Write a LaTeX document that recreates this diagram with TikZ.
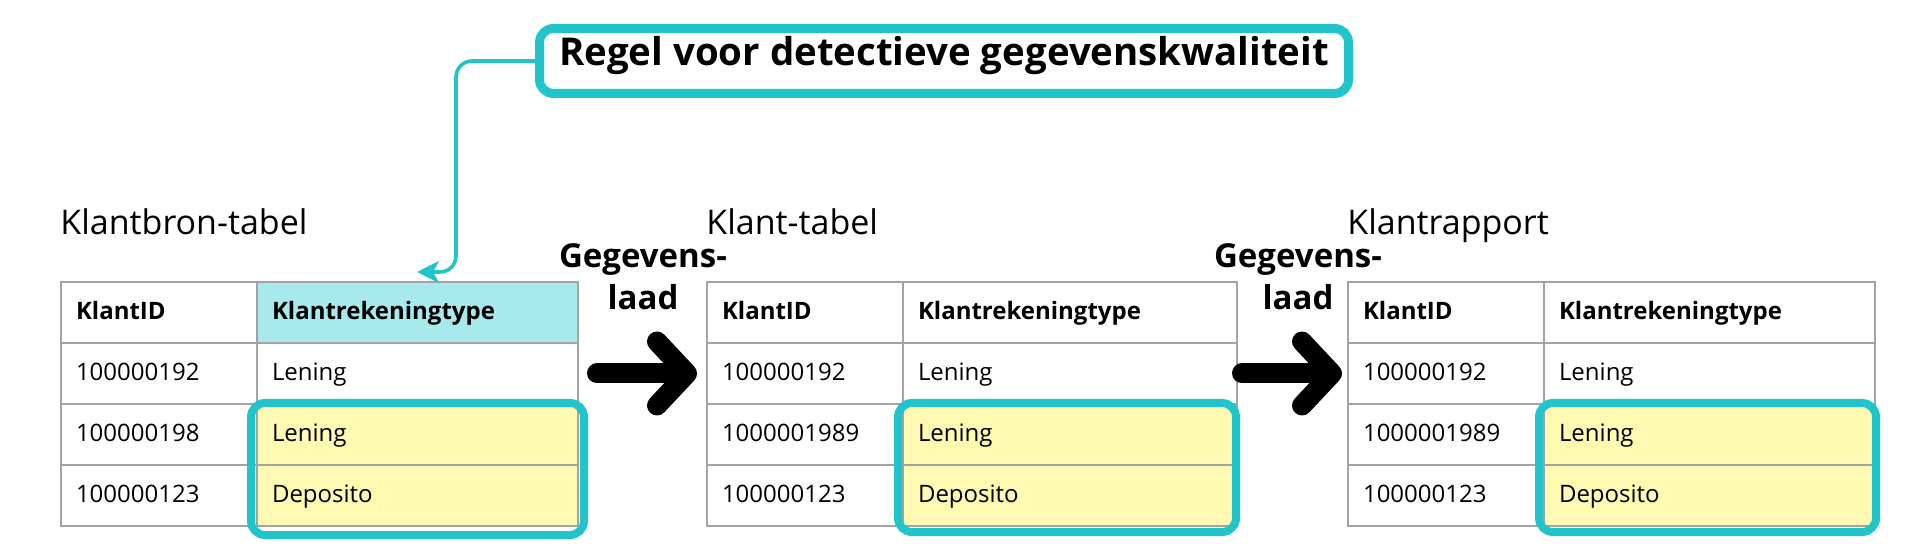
\documentclass[tikz,border=0pt]{standalone}
\usepackage{fontspec}
\setmainfont{Open Sans}
\usetikzlibrary{arrows.meta}

\definecolor{rulecyan}{HTML}{22C4CB}
\definecolor{headcyan}{HTML}{A7E9EC}
\definecolor{hlyellow}{HTML}{FFF9B1}
\definecolor{gridgray}{HTML}{A3A3A3}

\tikzset{
  cell/.style={draw=gridgray, line width=1pt, anchor=north west,
    minimum height=30.5pt, text height=7pt, text depth=0pt,
    inner xsep=7.5pt, align=left, font=\fontsize{12}{14}\selectfont},
  idcell/.style={cell, text width=83pt},
  typecell/.style={cell, text width=#1},
  head/.style={font=\fontsize{12}{14}\selectfont\bfseries},
  tabtitle/.style={anchor=base west, inner sep=0pt,
    font=\fontsize{17}{20}\selectfont},
  loadlabel/.style={align=center, inner sep=0pt,
    font=\bfseries\fontsize{16.5}{21}\selectfont},
  loadarrow/.style={line width=10pt, line cap=round,
    -{Straight Barb[round, length=15pt, width=32pt]}},
  rulebox/.style={draw=rulecyan, line width=4.5pt, rounded corners=7pt,
    minimum width=404.5pt, inner ysep=0pt, text height=18.75pt,
    text depth=13.75pt, font=\bfseries\fontsize{19.2}{22}\selectfont},
  rulearrow/.style={draw=rulecyan, line width=1.8pt, rounded corners=8pt,
    -{Stealth[length=11pt, width=11pt, inset=3pt]}},
  hlbox/.style={draw=rulecyan, line width=4pt, rounded corners=7pt}
}

\begin{document}
\begin{tikzpicture}
    [x=0.5pt, y=-0.5pt]

    \useasboundingbox (0, 0) rectangle (1920, 560);

    \node [rulebox] at (944, 61) (rule) {Regel voor detectieve gegevenskwaliteit};

    % Klantbron-tabel
    \node [tabtitle] at (60, 235) (t1) {Klantbron-tabel};
    \node [idcell, head] at (60, 281) (s0a) {KlantID};
    \node [typecell=145.5pt, head, fill=headcyan] at (256, 281) (s0b) {Klantrekeningtype};
    \node [idcell] at (60, 342) (s1a) {100000192};
    \node [typecell=145.5pt] at (256, 342) (s1b) {Lening};
    \node [idcell] at (60, 403) (s2a) {100000198};
    \node [typecell=145.5pt, fill=hlyellow] at (256, 403) (s2b) {Lening};
    \node [idcell] at (60, 464) (s3a) {100000123};
    \node [typecell=145.5pt, fill=hlyellow] at (256, 464) (s3b) {Deposito};

    % Klant-tabel
    \node [tabtitle] at (706, 235) (t2) {Klant-tabel};
    \node [idcell, head] at (706, 281) (k0a) {KlantID};
    \node [typecell=152pt, head] at (902, 281) (k0b) {Klantrekeningtype};
    \node [idcell] at (706, 342) (k1a) {100000192};
    \node [typecell=152pt] at (902, 342) (k1b) {Lening};
    \node [idcell] at (706, 403) (k2a) {1000001989};
    \node [typecell=152pt, fill=hlyellow] at (902, 403) (k2b) {Lening};
    \node [idcell] at (706, 464) (k3a) {100000123};
    \node [typecell=152pt, fill=hlyellow] at (902, 464) (k3b) {Deposito};

    % Klantrapport
    \node [tabtitle] at (1347, 235) (t3) {Klantrapport};
    \node [idcell, head] at (1347, 281) (r0a) {KlantID};
    \node [typecell=150.5pt, head] at (1543, 281) (r0b) {Klantrekeningtype};
    \node [idcell] at (1347, 342) (r1a) {100000192};
    \node [typecell=150.5pt] at (1543, 342) (r1b) {Lening};
    \node [idcell] at (1347, 403) (r2a) {1000001989};
    \node [typecell=150.5pt, fill=hlyellow] at (1543, 403) (r2b) {Lening};
    \node [idcell] at (1347, 464) (r3a) {100000123};
    \node [typecell=150.5pt, fill=hlyellow] at (1543, 464) (r3b) {Deposito};

    \draw [hlbox] ([xshift=-2.5pt]s2b.north west) rectangle ([xshift=2.5pt, yshift=-4pt]s3b.south east);
    \draw [hlbox] ([xshift=-2pt]k2b.north west) rectangle ([xshift=-1pt, yshift=-2.5pt]k3b.south east);
    \draw [hlbox] ([xshift=-2pt]r2b.north west) rectangle ([xshift=0pt, yshift=-2.5pt]r3b.south east);

    \node [loadlabel, anchor=base] at (643, 310) (load1) {Gegevens-\\laad};
    \node [loadlabel, anchor=base] at (1298, 310) (load2) {Gegevens-\\laad};

    \draw [loadarrow, shorten <=9pt, shorten >=4.5pt] (s1b.east) -- (k1a.west);
    \draw [loadarrow, shorten <=2pt, shorten >=2.5pt] (k1b.east) -- (r1a.west);

    \coordinate (ruletip) at (417, 272);
    \draw [rulearrow] (rule.west) -- ++(-79, 0) |- (ruletip);

  \end{tikzpicture}
\end{document}
